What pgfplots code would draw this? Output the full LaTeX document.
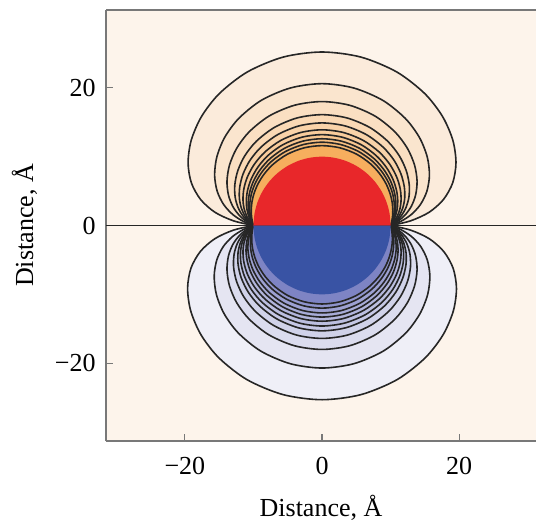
\documentclass[border=0pt]{standalone}
\usepackage{fontspec}
\setmainfont{Liberation Serif}
\usepackage{pgfplots}
\pgfplotsset{compat=1.18}
\usepackage{pgfplotstable}

\definecolor{bgpeach}{RGB}{253,244,235}
\definecolor{ubase}{RGB}{251,235,219}
\definecolor{uor}{RGB}{246,174,94}
\definecolor{lbase}{RGB}{239,239,247}
\definecolor{lbl}{RGB}{126,132,196}
\definecolor{sphred}{RGB}{232,39,42}
\definecolor{sphblue}{RGB}{57,83,164}
\definecolor{cline}{RGB}{38,38,38}
\definecolor{axgray}{RGB}{120,120,120}

% contour radii (Angstrom) against polar angle (deg); u = upper, l = lower
\pgfplotstableread{
a   u1    u2    u3    u4    u5    u6    u7    u8    u9    u10   l1    l2    l3    l4    l5    l6    l7    l8    l9    l10   l11
0   10    10    10    10    10    10    10    10    10    10    10    10    10    10    10    10    10    10    10    10    10
3   12.93 11.51 11.02 10.78 10.63 10.50 10.35 10.29 10.23 10.16 12.95 11.52 11.02 10.82 10.68 10.59 10.50 10.36 10.30 10.20 10.14
7   15.72 13.12 12.16 11.65 11.32 11.05 10.76 10.62 10.50 10.35 15.75 13.15 12.16 11.73 11.43 11.24 11.05 10.79 10.64 10.43 10.30
12  18.09 14.67 13.30 12.51 12.02 11.61 11.19 10.96 10.78 10.55 18.14 14.72 13.30 12.64 12.18 11.90 11.61 11.22 11.00 10.69 10.48
18  20.03 16.07 14.35 13.32 12.67 12.12 11.61 11.31 11.05 10.76 20.10 16.13 14.35 13.48 12.88 12.50 12.12 11.66 11.36 10.94 10.66
25  21.55 17.28 15.29 14.03 13.24 12.58 11.99 11.62 11.31 10.95 21.63 17.35 15.29 14.23 13.50 13.04 12.58 12.05 11.68 11.19 10.83
33  22.74 18.29 16.09 14.64 13.73 12.97 12.33 11.90 11.53 11.13 22.82 18.37 16.09 14.87 14.03 13.50 12.97 12.41 11.97 11.41 10.99
42  23.65 19.11 16.75 15.15 14.14 13.29 12.62 12.13 11.72 11.28 23.74 19.19 16.75 15.40 14.47 13.88 13.29 12.71 12.21 11.60 11.12
52  24.32 19.73 17.26 15.54 14.45 13.54 12.86 12.32 11.88 11.41 24.41 19.82 17.26 15.81 14.81 14.18 13.54 12.95 12.41 11.76 11.23
64  24.82 20.22 17.67 15.85 14.70 13.74 13.05 12.48 12.00 11.52 24.92 20.31 17.67 16.14 15.08 14.41 13.74 13.14 12.57 11.89 11.33
77  25.11 20.50 17.92 16.04 14.85 13.86 13.16 12.57 12.07 11.58 25.21 20.60 17.92 16.34 15.25 14.55 13.86 13.26 12.67 11.97 11.38
90  25.20 20.60 18.00 16.10 14.90 13.90 13.20 12.60 12.10 11.60 25.30 20.70 18.00 16.40 15.30 14.60 13.90 13.30 12.70 12.00 11.40
103 25.11 20.50 17.92 16.04 14.85 13.86 13.16 12.57 12.07 11.58 25.21 20.60 17.92 16.34 15.25 14.55 13.86 13.26 12.67 11.97 11.38
116 24.82 20.22 17.67 15.85 14.70 13.74 13.05 12.48 12.00 11.52 24.92 20.31 17.67 16.14 15.08 14.41 13.74 13.14 12.57 11.89 11.33
128 24.32 19.73 17.26 15.54 14.45 13.54 12.86 12.32 11.88 11.41 24.41 19.82 17.26 15.81 14.81 14.18 13.54 12.95 12.41 11.76 11.23
138 23.65 19.11 16.75 15.15 14.14 13.29 12.62 12.13 11.72 11.28 23.74 19.19 16.75 15.40 14.47 13.88 13.29 12.71 12.21 11.60 11.12
147 22.74 18.29 16.09 14.64 13.73 12.97 12.33 11.90 11.53 11.13 22.82 18.37 16.09 14.87 14.03 13.50 12.97 12.41 11.97 11.41 10.99
155 21.55 17.28 15.29 14.03 13.24 12.58 11.99 11.62 11.31 10.95 21.63 17.35 15.29 14.23 13.50 13.04 12.58 12.05 11.68 11.19 10.83
162 20.03 16.07 14.35 13.32 12.67 12.12 11.61 11.31 11.05 10.76 20.10 16.13 14.35 13.48 12.88 12.50 12.12 11.66 11.36 10.94 10.66
168 18.09 14.67 13.30 12.51 12.02 11.61 11.19 10.96 10.78 10.55 18.14 14.72 13.30 12.64 12.18 11.90 11.61 11.22 11.00 10.69 10.48
173 15.72 13.12 12.16 11.65 11.32 11.05 10.76 10.62 10.50 10.35 15.75 13.15 12.16 11.73 11.43 11.24 11.05 10.79 10.64 10.43 10.30
177 12.93 11.51 11.02 10.78 10.63 10.50 10.35 10.29 10.23 10.16 12.95 11.52 11.02 10.82 10.68 10.59 10.50 10.36 10.30 10.20 10.14
180 10    10    10    10    10    10    10    10    10    10    10    10    10    10    10    10    10    10    10    10    10
}\contours

% sphere outline, radius 10
\pgfplotstableread{
a   r
0   10
10  10
20  10
30  10
40  10
50  10
60  10
70  10
80  10
90  10
100 10
110 10
120 10
130 10
140 10
150 10
160 10
170 10
180 10
}\sphere

\begin{document}
\begin{tikzpicture}
\begin{axis}[
    scale only axis,
    width=215pt, height=215.5pt,
    xmin=-31.5, xmax=31.2,
    ymin=-31.3, ymax=31.3,
    axis x line*=box, axis y line*=left,
    axis line style={-, draw=axgray, line width=0.6pt},
    axis background/.style={fill=bgpeach},
    xtick={-20,0,20}, ytick={-20,0,20},
    xticklabels={−20,0,20}, yticklabels={−20,0,20},
    xtick pos=left, ytick pos=left,
    tick align=inside,
    major tick length=3.5pt,
    tick style={draw=axgray, line width=0.6pt},
    xticklabel style={font=\fontsize{13}{15}\selectfont, inner sep=0pt, anchor=center, yshift=-12.5pt},
    yticklabel style={font=\fontsize{13}{15}\selectfont, inner sep=0pt, anchor=east, xshift=-5pt},
    cont/.style={draw=cline, line width=0.8pt, smooth, tension=0.5, data cs=polar},
]

% upper (positive) contours, outermost first
\addplot[cont, fill=ubase]          table[x=a, y=u1]  {\contours} -- cycle;
\addplot[cont, fill=uor!10!ubase]   table[x=a, y=u2]  {\contours} -- cycle;
\addplot[cont, fill=uor!20!ubase]   table[x=a, y=u3]  {\contours} -- cycle;
\addplot[cont, fill=uor!30!ubase]   table[x=a, y=u4]  {\contours} -- cycle;
\addplot[cont, fill=uor!40!ubase]   table[x=a, y=u5]  {\contours} -- cycle;
\addplot[cont, fill=uor!50!ubase]   table[x=a, y=u6]  {\contours} -- cycle;
\addplot[cont, fill=uor!60!ubase]   table[x=a, y=u7]  {\contours} -- cycle;
\addplot[cont, fill=uor!70!ubase]   table[x=a, y=u8]  {\contours} -- cycle;
\addplot[cont, fill=uor!82!ubase]   table[x=a, y=u9]  {\contours} -- cycle;
\addplot[cont, fill=uor]            table[x=a, y=u10] {\contours} -- cycle;

% lower (negative) contours
\addplot[cont, fill=lbase]          table[x expr=-\thisrow{a}, y=l1]  {\contours} -- cycle;
\addplot[cont, fill=lbl!9!lbase]    table[x expr=-\thisrow{a}, y=l2]  {\contours} -- cycle;
\addplot[cont, fill=lbl!18!lbase]   table[x expr=-\thisrow{a}, y=l3]  {\contours} -- cycle;
\addplot[cont, fill=lbl!27!lbase]   table[x expr=-\thisrow{a}, y=l4]  {\contours} -- cycle;
\addplot[cont, fill=lbl!36!lbase]   table[x expr=-\thisrow{a}, y=l5]  {\contours} -- cycle;
\addplot[cont, fill=lbl!45!lbase]   table[x expr=-\thisrow{a}, y=l6]  {\contours} -- cycle;
\addplot[cont, fill=lbl!54!lbase]   table[x expr=-\thisrow{a}, y=l7]  {\contours} -- cycle;
\addplot[cont, fill=lbl!63!lbase]   table[x expr=-\thisrow{a}, y=l8]  {\contours} -- cycle;
\addplot[cont, fill=lbl!73!lbase]   table[x expr=-\thisrow{a}, y=l9]  {\contours} -- cycle;
\addplot[cont, fill=lbl!85!lbase]   table[x expr=-\thisrow{a}, y=l10] {\contours} -- cycle;
\addplot[cont, fill=lbl]            table[x expr=-\thisrow{a}, y=l11] {\contours} -- cycle;

% zero line
\addplot[cline, line width=0.8pt] coordinates {(-31.5,0) (31.2,0)};

% the sphere: positive and negative halves
\addplot[draw=none, fill=sphred, smooth, data cs=polar] table[x=a, y=r] {\sphere} -- cycle;
\addplot[draw=none, fill=sphblue, smooth, data cs=polar] table[x expr=-\thisrow{a}, y=r] {\sphere} -- cycle;
\end{axis}

\node[rotate=90, anchor=base, font=\fontsize{13}{15}\selectfont]
    at ([xshift=-36.5pt]current axis.west) {Distance, Å};
\node[anchor=base, font=\fontsize{13}{15}\selectfont]
    at ([yshift=-37.5pt]current axis.south) {Distance, Å};

\pgfresetboundingbox
\path[use as bounding box] ([shift={(-53pt,-39.7pt)}]current axis.south west)
    rectangle ([shift={(0pt,5pt)}]current axis.north east);
\end{tikzpicture}
\end{document}
